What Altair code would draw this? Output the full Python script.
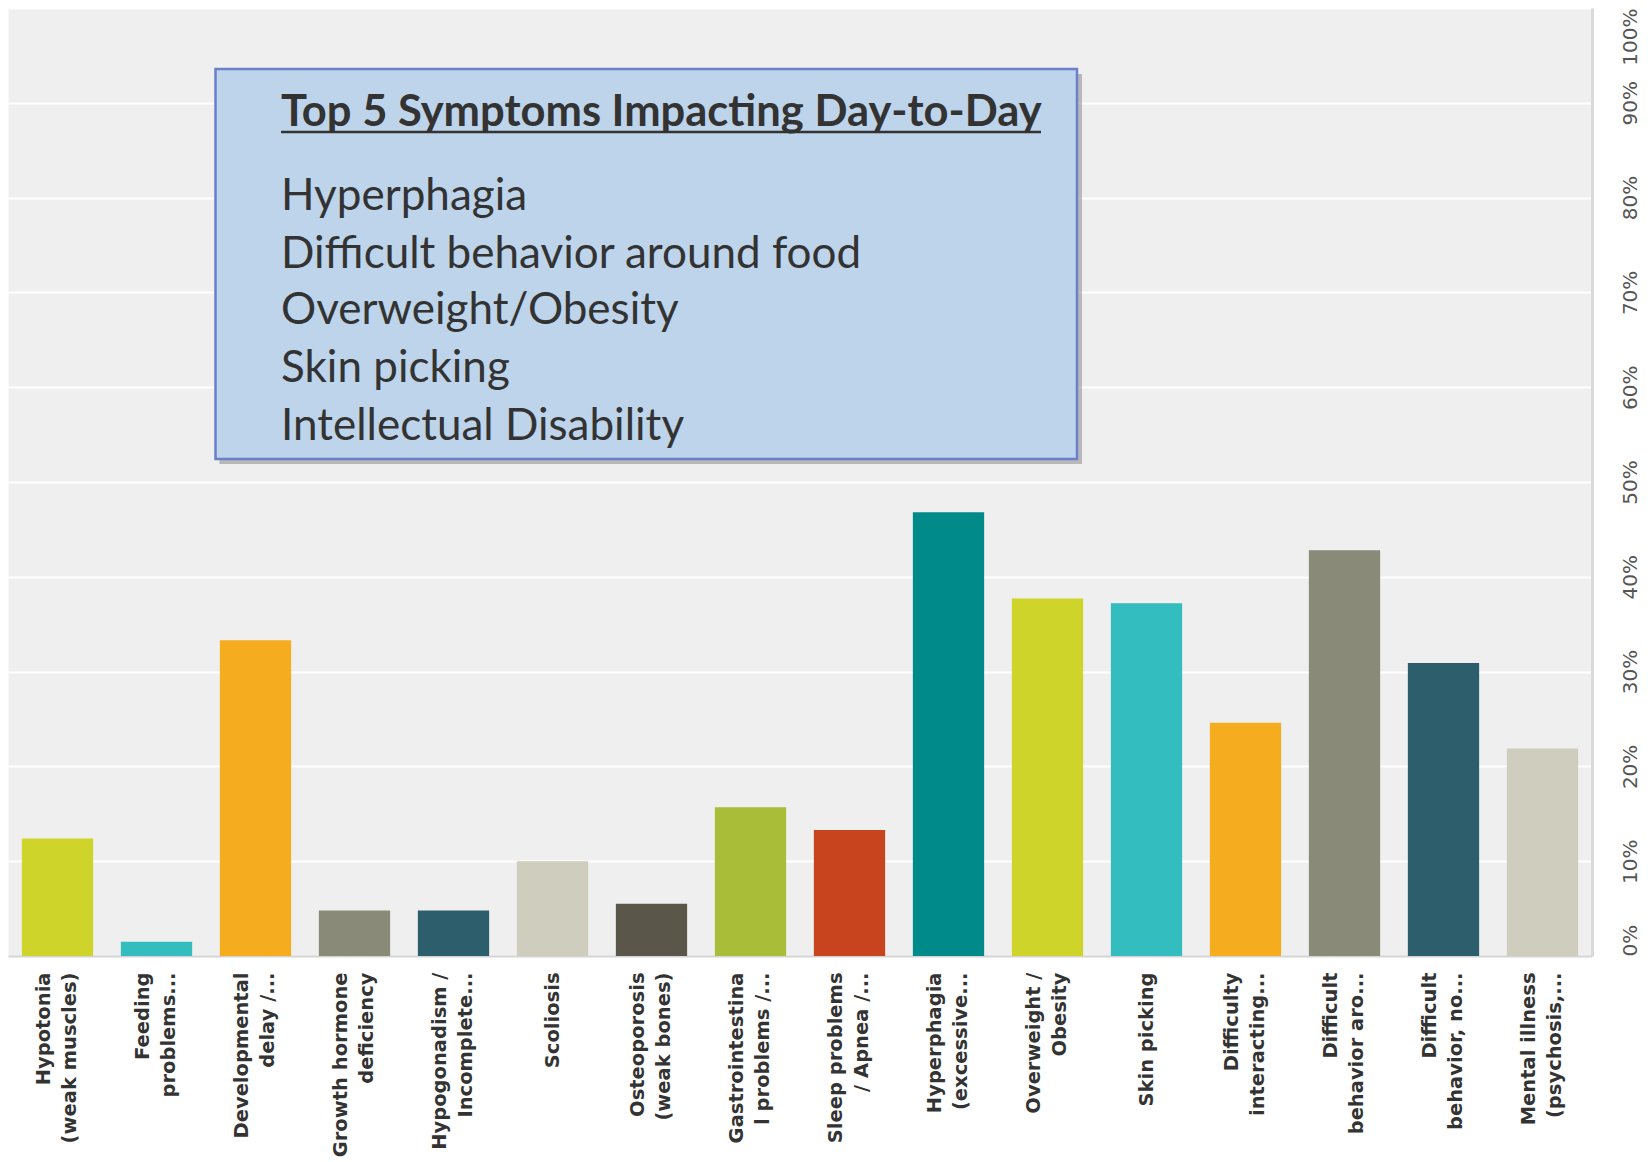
import altair as alt
import pandas as pd

categories = [
    "Hypotonia|(weak muscles)",
    "Feeding|problems...",
    "Developmental|delay /...",
    "Growth hormone|deficiency",
    "Hypogonadism /|Incomplete...",
    "Scoliosis",
    "Osteoporosis|(weak bones)",
    "Gastrointestina|l problems /...",
    "Sleep problems|/ Apnea /...",
    "Hyperphagia|(excessive...",
    "Overweight /|Obesity",
    "Skin picking",
    "Difficulty|interacting...",
    "Difficult|behavior aro...",
    "Difficult|behavior, no...",
    "Mental illness|(psychosis,...",
]
values = [12.4, 1.5, 33.3, 4.8, 4.8, 10.0, 5.5, 15.7, 13.3, 46.8, 37.7, 37.2, 24.6, 42.8, 30.9, 21.9]
colors = [
    "#CFD42A", "#33BDBF", "#F5AD1F", "#898A78", "#2D5E6B", "#CFCDBE", "#5A574A", "#A9BD38",
    "#C8441E", "#008A8A", "#CFD42A", "#33BDBF", "#F5AD1F", "#898A78", "#2D5E6B", "#CFCDBE",
]
y_ticks = [0, 0.1, 0.2, 0.3, 0.4, 0.5, 0.6, 0.7, 0.8, 0.9, 1.0]
box_title = "Top 5 Symptoms Impacting Day-to-Day"
box_items = [
    "Hyperphagia",
    "Difficult behavior around food",
    "Overweight/Obesity",
    "Skin picking",
    "Intellectual Disability",
]

df = pd.DataFrame({"cat": categories, "val": [v / 100 for v in values]})

bars = alt.Chart(df).mark_bar().encode(
    x=alt.X(
        "cat:N",
        sort=None,
        scale=alt.Scale(paddingInner=0.28, paddingOuter=0.14),
        axis=alt.Axis(
            title=None,
            labelAngle=270,
            labelExpr="split(datum.label, '|')",
            labelFont="DejaVu Sans",
            labelFontWeight="bold",
            labelFontSize=19.5,
            labelColor="#333333",
            labelLineHeight=26,
            labelPadding=16,
            labelOffset={
                "condition": {"test": "indexof(datum.value, '|') >= 0", "value": -14},
                "value": 0,
            },
            ticks=False,
            tickSize=0,
            domainColor="#D4D4D4",
            domainWidth=2,
            labelLimit=400,
            labelOverlap=False,
            grid=False,
        ),
    ),
    y=alt.Y(
        "val:Q",
        scale=alt.Scale(domain=[0, 1]),
        axis=alt.Axis(
            orient="right",
            title=None,
            format=".0%",
            values=y_ticks,
            labelAngle=270,
            labelAlign={
                "condition": [
                    {"test": "datum.value <= 0", "value": "left"},
                    {"test": "datum.value >= 1", "value": "right"},
                ],
                "value": "center",
            },
            labelBaseline="middle",
            labelFont="DejaVu Sans",
            labelFontSize=20,
            labelColor="#555555",
            labelPadding=38,
            ticks=False,
            tickSize=0,
            domainColor="#DADADA",
            domainWidth=3,
            gridColor="#FFFFFF",
            gridWidth=2,
        ),
    ),
    color=alt.Color("cat:N", scale=alt.Scale(domain=categories, range=colors), legend=None),
)

one = alt.Data(values=[{}])

shadow = alt.Chart(one).mark_rect(color="#8A8A8A", opacity=0.55).encode(
    x=alt.value(211.5), x2=alt.value(1074), y=alt.value(66), y2=alt.value(456)
)
box = alt.Chart(one).mark_rect(fill="#BDD4EA", stroke="#6B7FCB", strokeWidth=2.5).encode(
    x=alt.value(207.5), x2=alt.value(1069), y=alt.value(61), y2=alt.value(451)
)
title_text = alt.Chart(one).mark_text(
    text=box_title, font="Lato", fontWeight="bold", fontSize=43.5, color="#333333",
    align="left", baseline="alphabetic",
).encode(x=alt.value(273), y=alt.value(118))
underline = alt.Chart(one).mark_rule(color="#333333", strokeWidth=2.5).encode(
    x=alt.value(273), x2=alt.value(1033), y=alt.value(124)
)

layers = [bars, shadow, box, title_text, underline]
baselines = [202, 260, 316, 373.5, 431.5]
for item, yb in zip(box_items, baselines):
    layers.append(
        alt.Chart(one).mark_text(
            text=item, font="Lato", fontSize=44, color="#333333",
            align="left", baseline="alphabetic",
        ).encode(x=alt.value(273), y=alt.value(yb))
    )

chart = alt.layer(*layers).properties(
    width=1584, height=948, padding=0, background="#FFFFFF"
).configure_view(fill="#EFEFEF", stroke="transparent")

chart.save("out.html", embed_options={"renderer": "svg", "actions": False})
